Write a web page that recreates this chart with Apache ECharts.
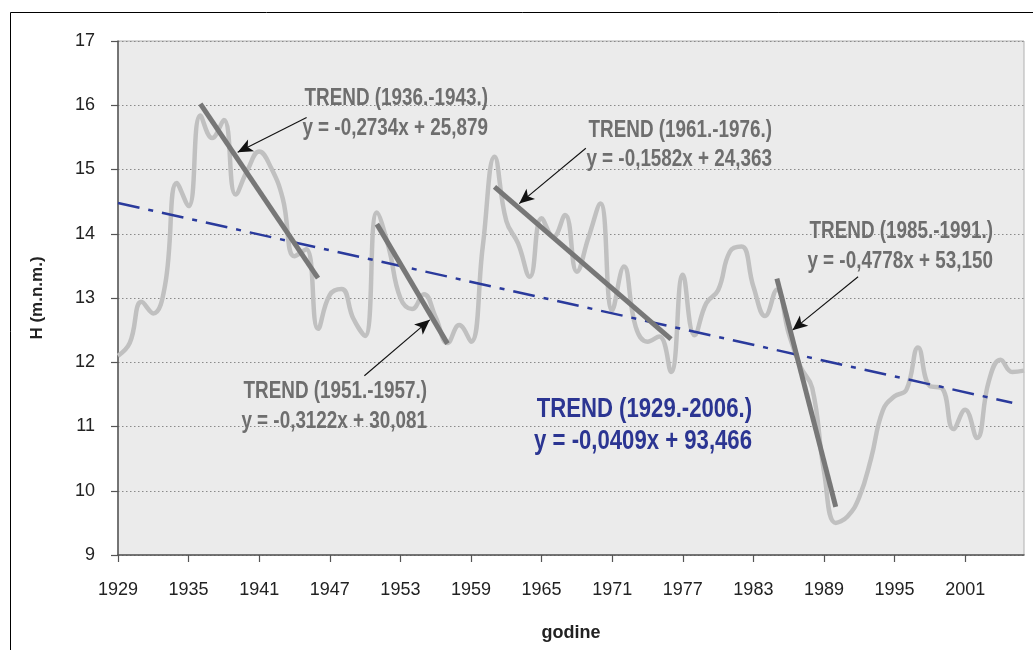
<!DOCTYPE html>
<html>
<head>
<meta charset="utf-8">
<script src="https://cdn.jsdelivr.net/npm/echarts@6/dist/echarts.min.js"></script>
<style>
html,body{margin:0;padding:0;background:#fff;}
#chart{width:1033px;height:650px;}
</style>
</head>
<body>
<div id="chart"></div>
<script>
// ---- data ----
const years = [1929,1930,1931,1932,1933,1934,1935,1936,1937,1938,1939,1940,1941,1942,1943,1944,1945,1946,1947,1948,
  1949,1950,1951,1952,1953,1954,1955,1956,1957,1958,1959,1960,1961,1962,1963,1964,1965,1966,1967,1968,
  1969,1970,1971,1972,1973,1974,1975,1976,1977,1978,1979,1980,1981,1982,1983,1984,1985,1986,1987,1988,
  1989,1990,1991,1992,1993,1994,1995,1996,1997,1998,1999,2000,2001,2002,2003,2004,2005,2006];
const levels = [12.10,12.30,12.94,12.76,13.20,14.79,14.43,15.84,15.49,15.77,14.61,14.99,15.28,15.03,14.55,13.65,13.76,12.52,13.05,13.14,
  12.68,12.41,14.33,13.79,13.00,12.83,13.06,12.70,12.30,12.58,12.32,13.80,15.20,14.20,13.85,13.33,14.24,13.95,14.29,13.41,
  13.95,14.47,12.81,13.49,12.55,12.32,12.40,11.85,13.36,12.42,12.92,13.12,13.72,13.80,13.18,12.72,13.13,12.45,11.93,11.60,
  10.30,9.50,9.60,9.90,10.50,11.25,11.47,11.57,12.23,11.63,11.60,10.96,11.26,10.82,11.70,12.04,11.85,11.87];
const yTickLabels = ['9','10','11','12','13','14','15','16','17'];
// period trend segments [startYear, startValue, endYear, endValue]
const trend1936 = [1936, 16.02, 1946, 13.31];
const trend1951 = [1951, 14.15, 1957, 12.29];
const trend1961 = [1961, 14.73, 1976, 12.36];
const trend1985 = [1985, 13.30, 1990, 9.75];
// whole period trend
const trendAll = [1929, 14.48, 2005, 11.37];
// annotation arrows [tailYear, tailValue, headYear, headValue]
const arrow1 = [1945.03, 15.81, 1939.17, 15.27];
const arrow2 = [1949.94, 11.79, 1955.50, 12.66];
const arrow3 = [1968.76, 15.33, 1963.10, 14.47];
const arrow4 = [1991.90, 13.33, 1986.32, 12.50];
// annotation texts
const labels1936 = ['TREND (1936.-1943.)', 'y = -0,2734x + 25,879'];
const labels1951 = ['TREND (1951.-1957.)', 'y = -0,3122x + 30,081'];
const labels1961 = ['TREND (1961.-1976.)', 'y = -0,1582x + 24,363'];
const labels1985 = ['TREND (1985.-1991.)', 'y = -0,4778x + 53,150'];
const labelsAll  = ['TREND (1929.-2006.)', 'y = -0,0409x + 93,466'];

const FONT = "'Liberation Sans',Arial,sans-serif";
const GREY_TXT = '#6e6e6e';
const BLUE = '#2b3592';
const NARROW = 0.82;

function seg(a){ return [[a[0], a[1]], [a[2], a[3]]]; }
function segSeries(a){
  return {type:'line', xAxisIndex:1, yAxisIndex:0, data: seg(a), symbol:'none', silent:true, z:5,
    lineStyle:{color:'#777777', width:5, cap:'butt'}};
}
function arrowLine(a){ return [{coord:[a[0], a[1]]}, {coord:[a[2], a[3]]}]; }

function textLine(txt, right, yc, color, size){
  return {type:'text', x: right, y: yc, scaleX: NARROW, scaleY: 1, z:20, silent:true,
    style:{text: txt, x:0, y:0, fill: color, font: 'bold ' + size + 'px ' + FONT, textAlign:'right', textVerticalAlign:'middle'}};
}
function textBlock(lines, right, y1, y2, color, size){
  return [textLine(lines[0], right, y1, color, size), textLine(lines[1], right, y2, color, size)];
}

const chart = echarts.init(document.getElementById('chart'), null, {renderer:'canvas'});
const option = {
  backgroundColor: '#ffffff',
  animation: false,
  grid: {left:118, top:41, right:9, bottom:95, show:true, backgroundColor:'#ebebeb', borderColor:'#b0b0b0', borderWidth:1},
  xAxis: [
    {type:'category', data: years.map(String), boundaryGap:false,
      axisLine:{show:true, lineStyle:{color:'#555', width:1.5}},
      axisTick:{show:true, interval:5, length:7, lineStyle:{color:'#555', width:1.2}},
      axisLabel:{interval:5, margin:26, color:'#222', fontSize:18, fontFamily:FONT},
      splitLine:{show:false},
      name:'godine', nameLocation:'middle', nameGap:69,
      nameTextStyle:{color:'#222', fontSize:18, fontWeight:'bold', fontFamily:FONT}},
    {type:'value', min:1929, max:2006, show:false}
  ],
  yAxis: [{type:'value', min:9, max:17, interval:1,
    axisLine:{show:true, lineStyle:{color:'#555', width:1.5}},
    axisTick:{show:true, length:7, lineStyle:{color:'#555', width:1.2}},
    axisLabel:{margin:23, color:'#222', fontSize:18, fontFamily:FONT,
      formatter: function(v){ return yTickLabels[Math.round(v) - 9]; }},
    splitLine:{show:true, lineStyle:{color:'#8a8a8a', type:[1.5,2.5], width:1}},
    name:'H (m.n.m.)', nameLocation:'middle', nameGap:72, nameRotate:90,
    nameTextStyle:{color:'#222', fontSize:17, fontWeight:'bold', fontFamily:FONT}}],
  series: [
    {type:'line', xAxisIndex:0, data: levels, smooth:0.45, symbol:'none', silent:true, z:2,
      lineStyle:{color:'#c0c0c0', width:4.5}},
    {type:'line', xAxisIndex:1, data: seg(trendAll), symbol:'none', silent:true, z:3,
      lineStyle:{color:'#2a3a9c', width:2.5, type:[22,9,5,9]},
      markLine:{silent:true, symbol:['none','arrow'], symbolSize:[10,15], animation:false,
        lineStyle:{color:'#111', width:1.1, type:'solid'}, label:{show:false},
        emphasis:{disabled:true},
        data:[arrowLine(arrow1), arrowLine(arrow2), arrowLine(arrow3), arrowLine(arrow4)]}},
    segSeries(trend1936), segSeries(trend1951), segSeries(trend1961), segSeries(trend1985)
  ],
  graphic: [
    {type:'rect', shape:{x:10.5, y:12.5, width:1100, height:700}, style:{fill:'none', stroke:'#000', lineWidth:1}, z:-1, silent:true}
  ].concat(
    textBlock(labels1936, 488, 99, 129, GREY_TXT, 23),
    textBlock(labels1951, 427, 392, 422, GREY_TXT, 23),
    textBlock(labels1961, 772, 131, 160, GREY_TXT, 23),
    textBlock(labels1985, 993, 232, 262, GREY_TXT, 23),
    textBlock(labelsAll, 752, 410, 442, BLUE, 27)
  )
};
chart.setOption(option);
</script>
</body>
</html>
